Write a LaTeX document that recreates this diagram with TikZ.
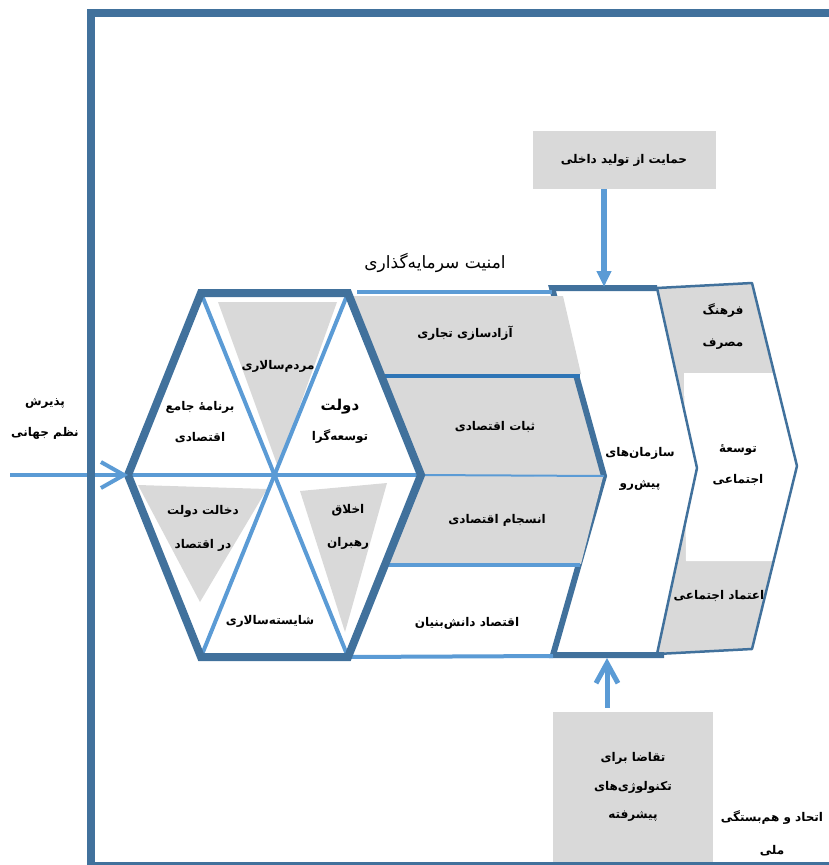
\documentclass[tikz,border=0pt]{standalone}
\usepackage{fontspec}
\newfontfamily\farsi[Script=Arabic]{DejaVu Sans}
\TeXXeTstate=1
\newcommand{\fa}[1]{\beginR #1\endR}
\usetikzlibrary{arrows.meta}
\definecolor{dkblue}{HTML}{41719C}
\definecolor{ltblue}{HTML}{5B9BD5}
\definecolor{mdblue}{HTML}{2E75B6}
\definecolor{lgray}{HTML}{D9D9D9}

\begin{document}
\begin{tikzpicture}[x=1pt, y=-1pt, hx/.style={draw=dkblue, line width=8pt}, ln/.style={draw=ltblue, line width=4pt}, g/.style={fill=lgray}, t/.style={font=\farsi\bfseries\fontsize{12}{31}\selectfont, align=center, inner sep=0pt}, bx/.style={fill=lgray, inner sep=0pt}]
		\useasboundingbox (0,0) rectangle (829,865);

		\coordinate (L) at (128,475);
		\coordinate (TL) at (201,293);
		\coordinate (TR) at (348,293);
		\coordinate (R) at (421,475);
		\coordinate (BR) at (348,657);
		\coordinate (BL) at (201,657);
		\coordinate (N) at (604,476);
		\coordinate (A) at (657,288);
		\coordinate (B) at (752,283);
		\coordinate (C) at (797,466);
		\coordinate (D) at (752,649);
		\coordinate (E) at (657,654);
		\coordinate (F) at (697,468);
		\coordinate (in) at (10,475);
		\coordinate (tp) at (604,287);
		\coordinate (bt) at (607,658);

		\fill[g] (218,302) -- (337,302) -- (278,467) -- cycle;
		\fill[g] (138,485) -- (267,489) -- (200,602) -- cycle;
		\fill[g] (300,491) -- (387,483) -- (345,632) -- cycle;
		\fill[g] (381,376) -- (578,376) -- (N) -- (R) -- cycle;

		\fill[g] (A) -- (B) -- (C) -- (D) -- (E) -- (F) -- cycle;
		\fill[white] (684,373) -- (774,373) -- (C) -- (774,561) -- (686,561) -- cycle;
		\draw[draw=dkblue, line width=2.5pt, line join=round] (A) -- (B) -- (C) -- (D) -- (E) -- (F) -- cycle;
		\draw[draw=dkblue, line width=6pt] (A) -- (552,288) -- (N) -- (553,655) -- (664,655);

		\fill[g] (349,296) -- (563,296) -- (581,374) -- (381,374) -- cycle;
		\fill[g] (R) -- (603,477) -- (581,564) -- (385,564) -- cycle;

		\draw[ln] (357,292) -- (552,292);
		\draw[draw=mdblue, line width=4pt] (381,376) -- (580,376);
		\draw[ln, line width=2pt] (R) -- (N);
		\draw[ln] (388,565) -- (580,565);
		\draw[ln] (BR) -- (553,656);

		\draw[ln] (TL) -- (BR);
		\draw[ln] (TR) -- (BL);
		\draw[ln] (L) -- (R);
		\draw[hx] (L) -- (TL) -- (TR) -- (R) -- (BR) -- (BL) -- cycle;

		\draw[ln, -{Straight Barb[length=23pt, width=26pt]}] (in) -- (L);
		\draw[draw=dkblue, line width=8pt] (91,866) -- (91,13) -- (835,13) -- (835,866) -- cycle;

		\node[bx, t, minimum width=183pt, minimum height=58pt] (hm) at (624,160) {\fa{حمایت از تولید داخلی}};
		\node[bx, t, font=\farsi\bfseries\fontsize{12}{28.5}\selectfont, minimum width=160pt, minimum height=150pt] (tq) at (633,787) {\fa{تقاضا برای}\\\fa{تکنولوژی‌های}\\\fa{پیشرفته}};
		\draw[draw=dkblue, line width=8pt] (91,866) -- (835,866);

		\draw[draw=ltblue, line width=6pt, -{Triangle[length=16pt, width=14pt]}] (hm.south -| tp) -- (tp);
		\draw[draw=ltblue, line width=5pt, -{Straight Barb[length=20pt, width=22pt]}] ([yshift=4pt]tq.north -| bt) -- (bt);

		\node[font=\farsi\fontsize{17}{20}\selectfont, inner sep=0pt] (am) at (435,263) {\fa{امنیت سرمایه‌گذاری}};
		\node[t] (ms) at (278,366) {\fa{مردم‌سالاری}};
		\node[t] (bj) at (200,422) {\fa{برنامه^^^^0654 جامع}\\\fa{اقتصادی}};
		\node[t, font=\farsi\bfseries\fontsize{15}{18}\selectfont] (dv) at (340,407) {\fa{دولت}};
		\node[t] (dt) at (340,437) {\fa{توسعه‌گرا}};
		\node[t, font=\farsi\bfseries\fontsize{12}{34}\selectfont] (dd) at (203,528) {\fa{دخالت دولت}\\\fa{در اقتصاد}};
		\node[t, font=\farsi\bfseries\fontsize{12}{33}\selectfont] (ax) at (348,527) {\fa{اخلاق}\\\fa{رهبران}};
		\node[t] (ss) at (270,621) {\fa{شایسته‌سالاری}};
		\node[t] (pn) at (45,419) {\fa{پذیرش}\\\fa{نظم جهانی}};

		\node[t] (az) at (465,333) {\fa{آزادسازی تجاری}};
		\node[t] (sb) at (495,427) {\fa{ثبات اقتصادی}};
		\node[t] (ej) at (497,520) {\fa{انسجام اقتصادی}};
		\node[t] (ed) at (467,623) {\fa{اقتصاد دانش‌بنیان}};

		\node[t] (sp) at (640,469) {\fa{سازمان‌های}\\\fa{پیش‌رو}};
		\node[t, font=\farsi\bfseries\fontsize{12}{32}\selectfont] (fm) at (723,327) {\fa{فرهنگ}\\\fa{مصرف}};
		\node[t] (te) at (738,465) {\fa{توسعه^^^^0654}\\\fa{اجتماعی}};
		\node[t] (ea) at (719,596) {\fa{اعتماد اجتماعی}};
		\node[t, font=\farsi\bfseries\fontsize{12}{33}\selectfont] (eh) at (772,833) {\fa{اتحاد و هم‌بستگی}\\\fa{ملی}};
	\end{tikzpicture}
\end{document}
